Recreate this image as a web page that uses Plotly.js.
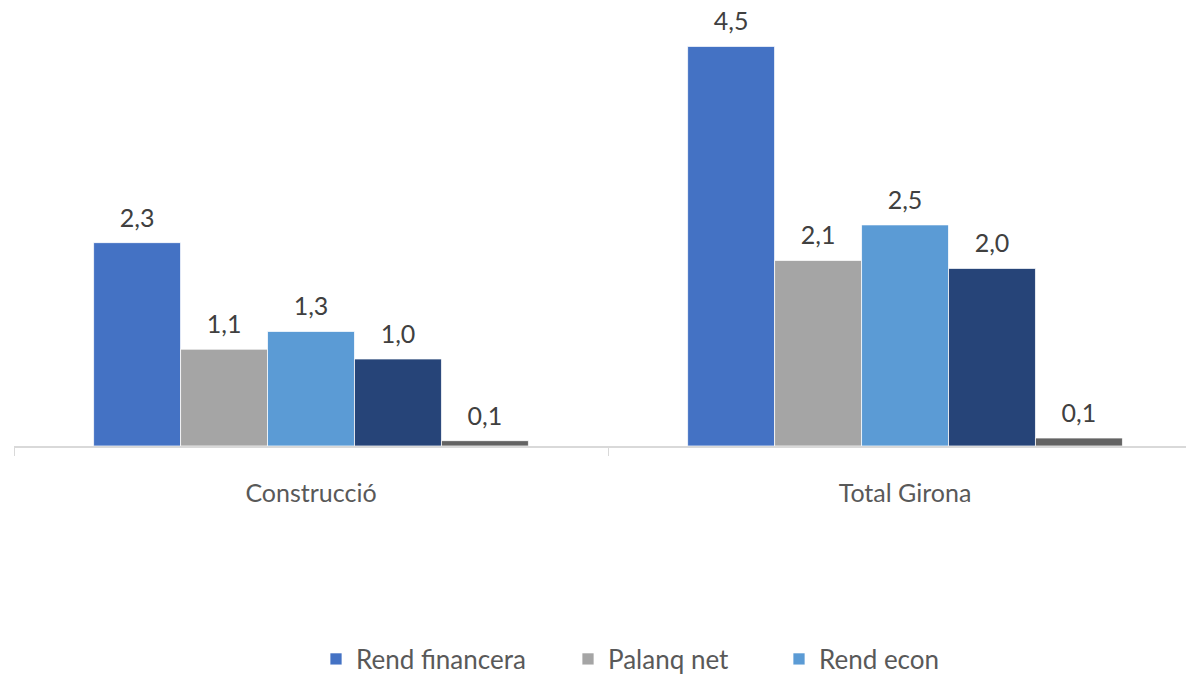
<!DOCTYPE html>
<html>
<head>
<meta charset="utf-8">
<script src="https://cdn.plot.ly/plotly-3.0.1.min.js"></script>
<style>html,body{margin:0;padding:0;background:#fff;}#chart{width:1187px;height:676px;}</style>
</head>
<body>
<div id="chart"></div>
<script>
const categories = ["Construcció", "Total Girona"];
const seriesNames = ["Rend financera", "Palanq net", "Rend econ", "Serie 4", "Serie 5"];
const rendFinancera = [2.29, 4.50];
const palanqNet = [1.09, 2.09];
const rendEcon = [1.29, 2.49];
const serie4 = [0.98, 2.00];
const serie5 = [0.06, 0.09];
const colors = ["#4472C4", "#A5A5A5", "#5B9BD5", "#264478", "#636363"];
const showInLegend = [true, true, true, false, false];
const legendIds = ["legend", "legend2", "legend3", "legend", "legend"];

const values = [rendFinancera, palanqNet, rendEcon, serie4, serie5];
const font = "Lato, 'Open Sans', sans-serif";
const gap = 0.268;

const barTraces = values.map((v, i) => ({
  type: "bar",
  x: categories,
  y: v,
  name: seriesNames[i],
  showlegend: showInLegend[i],
  legend: legendIds[i],
  marker: {color: colors[i], line: {color: "#ffffff", width: 0.75}},
  hoverinfo: "skip"
}));

const labelTraces = values.map((v, i) => ({
  type: "scatter",
  mode: "markers+text",
  x: categories,
  y: v,
  name: seriesNames[i] + " label",
  showlegend: false,
  marker: {size: 14, opacity: 0},
  texttemplate: "%{y:.1f}",
  textposition: "top center",
  textfont: {family: font, size: 25, color: "#404040"},
  cliponaxis: false,
  hoverinfo: "skip"
}));

function legendAt(px) {
  return {
    orientation: "h",
    xref: "container",
    x: px / 1187,
    xanchor: "left",
    yref: "container",
    y: 1 - 659 / 676,
    yanchor: "middle",
    font: {family: font, size: 26, color: "#595959"},
    itemwidth: 30,
    bgcolor: "rgba(0,0,0,0)"
  };
}

const layout = {
  width: 1187,
  height: 676,
  separators: ",.",
  margin: {l: 14, r: 1, t: 2, b: 230, autoexpand: false},
  paper_bgcolor: "#ffffff",
  plot_bgcolor: "#ffffff",
  barmode: "group",
  bargap: gap,
  bargroupgap: 0,
  scattermode: "group",
  scattergap: gap,
  font: {family: font, color: "#595959"},
  xaxis: {
    type: "category",
    range: [-0.5, 1.473],
    automargin: false,
    showline: true,
    linecolor: "#D9D9D9",
    linewidth: 1.5,
    ticks: "outside",
    tickson: "boundaries",
    ticklen: 8,
    tickcolor: "#D9D9D9",
    tickfont: {family: font, size: 25, color: "#595959"},
    ticklabelstandoff: 24,
    showgrid: false,
    zeroline: false
  },
  yaxis: {
    range: [0, 5],
    visible: false,
    showgrid: false,
    zeroline: false
  },
  legend: legendAt(316),
  legend2: legendAt(568),
  legend3: legendAt(779),
  showlegend: true
};

Plotly.newPlot("chart", barTraces.concat(labelTraces), layout, {displayModeBar: false, staticPlot: true});
</script>
</body>
</html>
